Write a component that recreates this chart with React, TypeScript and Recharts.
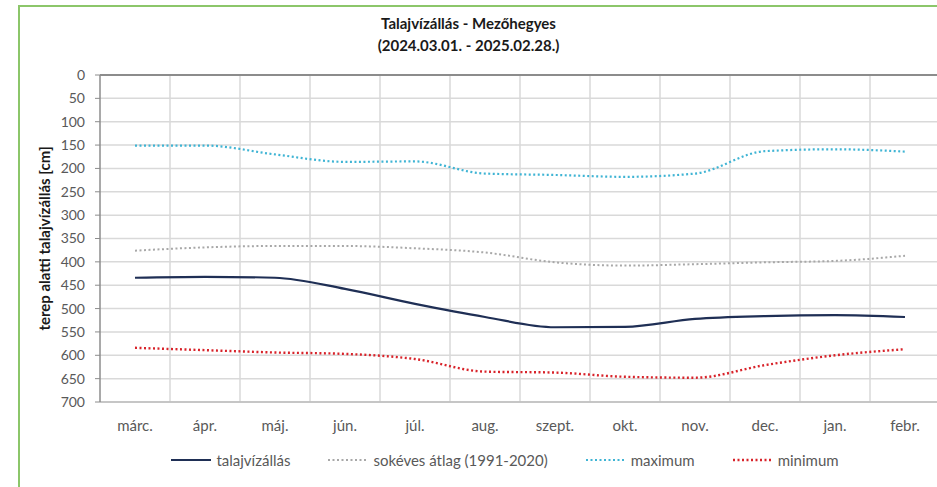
import React from 'react'
import { LineChart, Line, XAxis, YAxis, CartesianGrid, ReferenceLine, Label } from 'recharts'

const months = ['márc.', 'ápr.', 'máj.', 'jún.', 'júl.', 'aug.', 'szept.', 'okt.', 'nov.', 'dec.', 'jan.', 'febr.']
const talajvizallas = [434, 432, 434, 458, 490, 518, 540, 539, 522, 516, 514, 518]
const sokevesAtlag = [376, 369, 366, 366, 371, 380, 401, 408, 405, 401, 398, 387]
const maximum = [151, 151, 170, 186, 185, 211, 214, 218, 211, 163, 159, 164]
const minimum = [584, 589, 594, 597, 608, 635, 637, 646, 648, 621, 600, 587]
const yTicks = [0, 50, 100, 150, 200, 250, 300, 350, 400, 450, 500, 550, 600, 650, 700]

const series = [
  { key: 'talaj', name: 'talajvízállás', color: '#1f2f55', width: 2.2, dash: undefined },
  { key: 'atlag', name: 'sokéves átlag (1991-2020)', color: '#a8a8a8', width: 2, dash: '2 2.5' },
  { key: 'max', name: 'maximum', color: '#3fb4d4', width: 2.2, dash: '2 2.5' },
  { key: 'min', name: 'minimum', color: '#d8232a', width: 2.4, dash: '2 2.5' },
]

const data = months.map((m, i) => ({
  month: m,
  talaj: talajvizallas[i],
  atlag: sokevesAtlag[i],
  max: maximum[i],
  min: minimum[i],
}))

const font = 'Lato, "Open Sans", sans-serif'

export default function App() {
  return (
    <div style={{ position: 'absolute', left: 0, top: 0, width: 937, height: 487, overflow: 'hidden', background: '#fff', fontFamily: font }}>
      <div style={{ position: 'absolute', left: 18, top: 5, width: 1000, height: 600, border: '2px solid #8cc66a' }} />
      <div style={{ position: 'absolute', left: 0, width: 937, top: 12, textAlign: 'center', fontWeight: 700, fontSize: 15, lineHeight: '22px', color: '#1a1a1a' }}>
        <div>Talajvízállás - Mezőhegyes</div>
        <div>(2024.03.01. - 2025.02.28.)</div>
      </div>
      <div style={{ position: 'absolute', left: 0, top: 0 }}>
        <LineChart width={945} height={487} data={data} margin={{ top: 75, right: 5, bottom: 55, left: 0 }}>
          <CartesianGrid
            stroke="#d9d9d9"
            strokeWidth={1.5}
            verticalCoordinatesGenerator={({ offset }: any) =>
              months.map((_, i) => offset.left + ((i + 1) * offset.width) / months.length)
            }
          />
          <XAxis
            dataKey="month"
            scale="band"
            axisLine={{ stroke: '#bdbdbd', strokeWidth: 1.5 }}
            tickLine={false}
            tickMargin={12}
            height={30}
            tick={{ fontSize: 15, fill: '#595959', fontFamily: font }}
            interval={0}
          />
          <YAxis
            reversed
            domain={[0, 700]}
            ticks={yTicks}
            width={100}
            axisLine={{ stroke: '#8c8c8c', strokeWidth: 1.5 }}
            tickLine={{ stroke: '#8c8c8c' }}
            tickSize={5}
            tickMargin={10}
            tick={{ fontSize: 14, fill: '#595959', fontFamily: font }}
          >
            <Label
              content={({ viewBox }: any) => {
                const cx = viewBox.x + 44
                const cy = viewBox.y + viewBox.height / 2
                return (
                  <text
                    x={cx}
                    y={cy}
                    transform={`rotate(-90 ${cx} ${cy})`}
                    textAnchor="middle"
                    dominantBaseline="central"
                    fontSize={15}
                    fontWeight={700}
                    fill="#1a1a1a"
                    fontFamily={font}
                  >
                    terep alatti talajvízállás [cm]
                  </text>
                )
              }}
            />
          </YAxis>
          <ReferenceLine y={0} stroke="#8c8c8c" strokeWidth={2} />
          {series.map((s) => (
            <Line
              key={s.key}
              type="monotone"
              dataKey={s.key}
              name={s.name}
              stroke={s.color}
              strokeWidth={s.width}
              strokeDasharray={s.dash}
              dot={false}
              activeDot={false}
              isAnimationActive={false}
            />
          ))}
        </LineChart>
      </div>
      <div style={{ position: 'absolute', left: 0, width: 1010, top: 451, display: 'flex', justifyContent: 'center', gap: 38, fontSize: 15, color: '#595959' }}>
        {series.map((s) => (
          <div key={s.key} style={{ display: 'flex', alignItems: 'center', gap: 5 }}>
            <svg width={40} height={6}>
              <line x1={0} y1={3} x2={40} y2={3} stroke={s.color} strokeWidth={s.width} strokeDasharray={s.dash} />
            </svg>
            <span>{s.name}</span>
          </div>
        ))}
      </div>
    </div>
  )
}
